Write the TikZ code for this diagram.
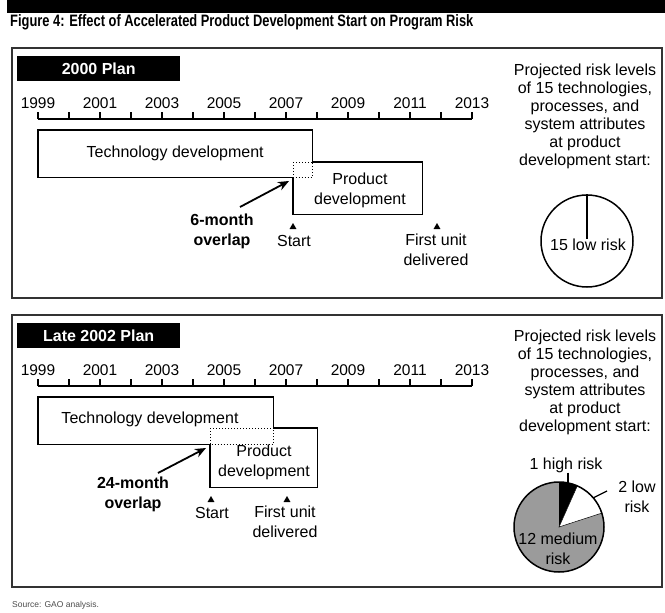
\documentclass[tikz,border=0pt]{standalone}
\usepackage{fontspec}
\setmainfont{Liberation Sans}
\newfontfamily\headfont{Liberation Sans Bold}[FakeStretch=0.78]
\usetikzlibrary{arrows.meta,shapes.geometric}

\definecolor{piegray}{RGB}{155,155,155}

\tikzset{
  x=1pt, y=1pt,
  every node/.style={inner sep=0pt, font=\fontsize{16}{20}\selectfont},
  panelframe/.style={draw=black!80, line width=1.6pt},
  plantag/.style={fill=black, text=white, anchor=north west,
    minimum width=163pt, minimum height=25pt,
    font=\fontsize{16}{20}\selectfont\bfseries},
  yearlab/.style={font=\fontsize{15.5}{18}\selectfont},
  axisline/.style={line width=1.4pt},
  phasebox/.style={anchor=north west, align=center},
  phaseline/.style={line width=1.8pt, line join=miter},
  overlapbox/.style={dotted, line width=1pt},
  pointer/.style={line width=1.8pt, -{Stealth[length=11pt,width=9pt]}},
  milestone/.style={fill=black, regular polygon, regular polygon sides=3,
    minimum size=8pt, inner sep=0pt},
  twoline/.style={align=center},
  boldnote/.style={align=center, font=\fontsize{16}{20}\selectfont\bfseries},
  risknote/.style={align=center, anchor=north, font=\fontsize{16}{18}\selectfont},
  leader/.style={line width=1.3pt},
}

\begin{document}
\begin{tikzpicture}
\useasboundingbox (0,0) rectangle (665,-613);

% heading
\fill (7,0) rectangle (665,-13);
\node[anchor=west, font=\fontsize{16.5}{19}\headfont] (title) at (10,-22)
  {Figure 4: Effect of Accelerated Product Development Start on Program Risk};

% ---------------- 2000 plan ----------------
\draw[panelframe] (12,-48) rectangle (662,-298);
\node[plantag] (tag1) at (17,-56) {2000 Plan};

\foreach \yr [count=\k from 0] in {1999,2001,...,2013}
  \node[yearlab] (ya\yr) at (38+62*\k,-103) {\yr};
\draw[axisline] (38,-119) -- (472,-119);
\foreach \i in {0,...,14}
  \draw[axisline] (38+31*\i,-119) -- (38+31*\i,-112);

\node[phasebox, minimum width=274pt, minimum height=47pt] (tech1) at (38,-130)
  {Technology development};
\node[phasebox, minimum width=129pt, minimum height=52pt] (prod1) at (293,-162) {};
\node[twoline] (prod1txt) at (360,-190) {Product\\development};
\draw[phaseline] (tech1.east |- prod1.north) -- (tech1.north east)
  -- (tech1.north west) -- (tech1.south west) -- (prod1.west |- tech1.south)
  -- (prod1.south west) -- (prod1.south east) -- (prod1.north east) -- cycle;
\draw[overlapbox] (prod1.north west) rectangle (tech1.south east);

\node[boldnote] (ov1) at (222,-231) {6-month\\overlap};
\coordinate (ov1tip) at (289,-181);
\draw[pointer] (240,-207) -- (ov1tip);

\node[milestone] (m1a) at (293,-227) {};
\node (start1) at (294,-241) {Start};
\node[milestone] (m1b) at (437,-227) {};
\node[twoline] (first1) at (436,-250) {First unit\\delivered};

\node[risknote] (txt1) at (585,-64)
  {Projected risk levels\\of 15 technologies,\\processes, and\\system attributes\\at product\\development start:};
\node[circle, draw, line width=1.5pt, minimum size=92pt] (pie1) at (587,-241) {};
\node (low15) at (588,-245) {15 low risk};
\draw[leader] (pie1.north) -- (low15.north -| pie1.north);

% ---------------- late 2002 plan ----------------
\draw[panelframe] (12,-315) rectangle (662,-587);
\node[plantag] (tag2) at (17,-323) {Late 2002 Plan};

\foreach \yr [count=\k from 0] in {1999,2001,...,2013}
  \node[yearlab] (yb\yr) at (38+62*\k,-370) {\yr};
\draw[axisline] (38,-386) -- (472,-386);
\foreach \i in {0,...,14}
  \draw[axisline] (38+31*\i,-386) -- (38+31*\i,-379);

\node[phasebox, minimum width=235pt, minimum height=47pt] (tech2) at (38,-397) {};
\node (tech2txt) at (150,-419) {Technology development};
\node[phasebox, minimum width=107pt, minimum height=59pt] (prod2) at (210,-428) {};
\node[twoline] (prod2txt) at (264,-462) {Product\\development};
\draw[phaseline] (tech2.east |- prod2.north) -- (tech2.north east)
  -- (tech2.north west) -- (tech2.south west) -- (prod2.west |- tech2.south)
  -- (prod2.south west) -- (prod2.south east) -- (prod2.north east) -- cycle;
\draw[overlapbox] (prod2.north west) rectangle (tech2.south east);

\node[boldnote] (ov2) at (133,-494) {24-month\\overlap};
\coordinate (ov2tip) at (206,-448);
\draw[pointer] (158,-473) -- (ov2tip);

\node[milestone] (m2a) at (211,-500) {};
\node (start2) at (212,-513) {Start};
\node[milestone] (m2b) at (287,-500) {};
\node[twoline] (first2) at (285,-522) {First unit\\delivered};

\node[risknote] (txt2) at (585,-330)
  {Projected risk levels\\of 15 technologies,\\processes, and\\system attributes\\at product\\development start:};

\node[circle, minimum size=90pt] (pie2) at (559,-527) {};
\fill[piegray] (pie2.center) circle[radius=45pt];
\fill[black] (pie2.center) -- ++(90:45pt) arc[start angle=90, end angle=66, radius=45pt] -- cycle;
\filldraw[fill=white, draw=black, line width=0.5pt] (pie2.center) -- ++(66:45pt)
  arc[start angle=66, end angle=18, radius=45pt] -- cycle;
\draw[line width=1.5pt] (pie2.center) circle[radius=45pt];

\node (high1) at (566,-465) {1 high risk};
\draw[leader] ([xshift=2pt]high1.south) -- ++(0,-18pt);
\node[twoline] (low2) at (637,-497) {2 low\\risk};
\draw[leader] ([shift={(34pt,29pt)}]pie2.center) -- ([shift={(48pt,36pt)}]pie2.center);
\node[twoline] (med12) at (558,-549) {12 medium\\risk};

% source line
\node[anchor=west, font=\fontsize{8.5}{10}\selectfont, text=black!70] (src) at (12,-605)
  {Source: GAO analysis.};
\end{tikzpicture}
\end{document}
